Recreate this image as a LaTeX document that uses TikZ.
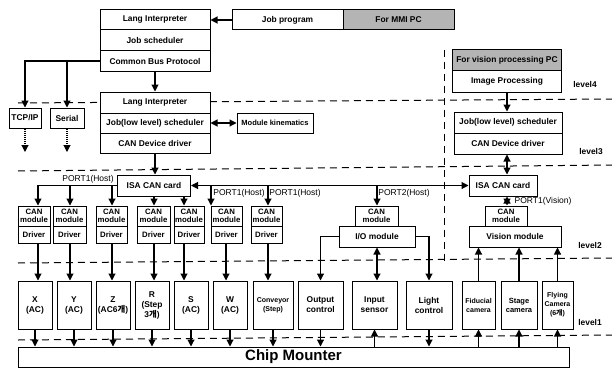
\documentclass[tikz,border=0pt]{standalone}
\usepackage{fontspec}
\setmainfont{Liberation Sans}
\newfontfamily\krfont{Noto Sans CJK KR}
\usetikzlibrary{arrows.meta}
\definecolor{pcgray}{RGB}{180,180,180}
\newcommand{\gae}{{\krfont 개}}

\begin{document}
\begin{tikzpicture}[x=1pt,y=-1pt,
  box/.style={draw, line width=1pt, fill=white, inner sep=0pt, align=center,
    font=\fontsize{8.4}{10}\selectfont\bfseries},
  modtxt/.style={font=\fontsize{7.8}{8.6}\selectfont\bfseries},
  tinytxt/.style={font=\fontsize{7}{9}\selectfont\bfseries},
  arr/.style={line width=1.1pt, -{Triangle[width=7pt,length=7pt]}},
  darr/.style={line width=1.1pt, {Triangle[width=7pt,length=7pt]}-{Triangle[width=7pt,length=7pt]}},
  lvl/.style={line width=1pt, dash pattern=on 7pt off 5pt},
  port/.style={inner sep=0pt, font=\fontsize{8.5}{9}\selectfont},
  lvltxt/.style={inner sep=0pt, font=\fontsize{8.4}{9}\selectfont\bfseries}]
  \useasboundingbox (0,0) rectangle (612,369);

  % level lines
  \draw[lvl] (18,103) -- (612,99);
  \draw[lvl] (18,171) -- (612,165);
  \draw[lvl] (18,263) -- (612,258);
  \draw[lvl] (18,340) -- (612,335);
  \draw[lvl] (444,50) -- (444,262);

  % MMI PC
  \node[box, minimum width=110, minimum height=20] (li1) at (155,20) {Lang Interpreter};
  \node[box, minimum width=110, minimum height=21] (js1) at (155,40.5) {Job scheduler};
  \node[box, minimum width=110, minimum height=20] (cbp) at (155,61) {Common Bus Protocol};
  \node[box, minimum width=111, minimum height=20] (job) at (287.5,20) {Job program};
  \node[box, fill=pcgray, minimum width=111, minimum height=20] (mmi) at (398.5,20) {For MMI PC};
  \node[box, minimum width=32, minimum height=20] (tcp) at (25,118) {TCP/IP};
  \node[box, minimum width=34, minimum height=20] (ser) at (67,118) {Serial};
  \coordinate (tcpout) at (25,152);
  \coordinate (serout) at (67,152);

  % controller
  \node[box, minimum width=110, minimum height=21] (li2) at (155,102.5) {Lang Interpreter};
  \node[box, minimum width=110, minimum height=20] (js2) at (155,123) {Job(low level) scheduler};
  \node[box, minimum width=110, minimum height=20] (cdd) at (155,143) {CAN Device driver};
  \node[box, font=\fontsize{7.5}{9}\selectfont\bfseries, minimum width=76, minimum height=20] (kin) at (275,123) {Module kinematics};

  % vision PC
  \node[box, fill=pcgray, minimum width=109, minimum height=20] (vpc) at (507,60) {For vision processing PC};
  \node[box, minimum width=109, minimum height=22] (imgp) at (507,81) {Image Processing};
  \node[box, minimum width=108, minimum height=21] (js3) at (508,122.5) {Job(low level) scheduler};
  \node[box, minimum width=108, minimum height=21] (cdd2) at (508,143.5) {CAN Device driver};

  % CAN cards
  \node[box, minimum width=73, minimum height=21] (isa1) at (154,185.5) {ISA CAN card};
  \node[box, minimum width=68, minimum height=21] (isa2) at (503,185.5) {ISA CAN card};

  % CAN modules and drivers
  \node[box, modtxt, minimum width=32, minimum height=20] (cm1) at (34,216) {CAN\\module};
  \node[box, modtxt, minimum width=32, minimum height=17] (dr1) at (34,234.5) {Driver};
  \node[box, modtxt, minimum width=33, minimum height=20] (cm2) at (69.5,216) {CAN\\module};
  \node[box, modtxt, minimum width=33, minimum height=17] (dr2) at (69.5,234.5) {Driver};
  \node[box, modtxt, minimum width=31, minimum height=20] (cm3) at (111.5,216) {CAN\\module};
  \node[box, modtxt, minimum width=31, minimum height=17] (dr3) at (111.5,234.5) {Driver};
  \node[box, modtxt, minimum width=33, minimum height=20] (cm4) at (153.5,216) {CAN\\module};
  \node[box, modtxt, minimum width=33, minimum height=17] (dr4) at (153.5,234.5) {Driver};
  \node[box, modtxt, minimum width=30, minimum height=20] (cm5) at (189,216) {CAN\\module};
  \node[box, modtxt, minimum width=30, minimum height=17] (dr5) at (189,234.5) {Driver};
  \node[box, modtxt, minimum width=31, minimum height=20] (cm6) at (226.5,216) {CAN\\module};
  \node[box, modtxt, minimum width=31, minimum height=17] (dr6) at (226.5,234.5) {Driver};
  \node[box, modtxt, minimum width=31, minimum height=20] (cm7) at (266.5,216) {CAN\\module};
  \node[box, modtxt, minimum width=31, minimum height=17] (dr7) at (266.5,234.5) {Driver};
  \node[box, modtxt, minimum width=43, minimum height=20] (cmio) at (376.5,216) {CAN\\module};
  \node[box, minimum width=76, minimum height=21] (io) at (377,236.5) {I/O module};
  \node[box, modtxt, minimum width=42, minimum height=20] (cmv) at (506,216) {CAN\\module};
  \node[box, minimum width=92, minimum height=21] (vis) at (515,236.5) {Vision module};

  % axes and devices
  \node[box, minimum width=34, minimum height=48] (ax) at (35,305) {X\\(AC)};
  \node[box, minimum width=34, minimum height=48] (ay) at (74,305) {Y\\(AC)};
  \node[box, minimum width=34, minimum height=48] (az) at (113,305) {Z\\(AC6\gae)};
  \node[box, minimum width=34, minimum height=48] (ar) at (152,305) {R\\(Step\\3\gae)};
  \node[box, minimum width=34, minimum height=48] (as) at (191,305) {S\\(AC)};
  \node[box, minimum width=34, minimum height=48] (aw) at (230,305) {W\\(AC)};
  \node[box, tinytxt, minimum width=40, minimum height=48] (conv) at (273,305) {Conveyor\\(Step)};
  \node[box, minimum width=45, minimum height=48] (outc) at (320.5,305) {Output\\control};
  \node[box, minimum width=45, minimum height=48] (inp) at (374.5,305) {Input\\sensor};
  \node[box, minimum width=46, minimum height=48] (light) at (429,305) {Light\\control};
  \node[box, tinytxt, minimum width=33, minimum height=48] (fid) at (478.5,305) {Fiducial\\camera};
  \node[box, font=\fontsize{7.5}{9}\selectfont\bfseries, minimum width=36, minimum height=48] (stage) at (519,305) {Stage\\camera};
  \node[box, tinytxt, minimum width=31, minimum height=48] (fly) at (557.5,305) {Flying\\Camera\\(6\gae)};
  \node[box, font=\fontsize{15}{18}\selectfont\bfseries, minimum width=551, minimum height=20] (chip) at (293.5,357) {Chip Mounter};

  % labels
  \node[port] (p1) at (88,179) {PORT1(Host)};
  \node[port] (p2) at (239,193) {PORT1(Host)};
  \node[port] (p3) at (295,193) {PORT1(Host)};
  \node[port] (p4) at (404,193) {PORT2(Host)};
  \node[port] (p5) at (543,201) {PORT1(Vision)};
  \node[lvltxt] (l4) at (585,84) {level4};
  \node[lvltxt] (l3) at (591,152) {level3};
  \node[lvltxt] (l2) at (590,245) {level2};
  \node[lvltxt] (l1) at (590,322) {level1};

  % bus taps
  \coordinate (k1) at (38,185.5);
  \coordinate (k2) at (70,185.5);
  \coordinate (k3) at (112,185.5);
  \coordinate (k4) at (154,185.5);
  \coordinate (k5) at (184,185.5);
  \coordinate (k6) at (211,185.5);
  \coordinate (k6b) at (226,185.5);
  \coordinate (k7) at (268,185.5);
  \coordinate (k8) at (377,185.5);
  \coordinate (vc) at (507,0);

  % upper connectors
  \draw[arr] (job.west) -- (li1.east);
  \draw[arr] (cbp.west) -| (tcp.north);
  \draw[arr] (cbp.west -| ser.north) -- (ser.north);
  \draw[arr, densely dotted] (tcp.south) -- (tcpout);
  \draw[arr, densely dotted] (ser.south) -- (serout);
  \draw[arr] (cbp.south) -- (li2.north);
  \draw[darr] (js2.east) -- (kin.west);
  \draw[arr] (cdd.south) -- (cdd.south |- isa1.north);
  \draw[arr] (vc |- imgp.south) -- (vc |- js3.north);
  \draw[darr] (vc |- cdd2.south) -- (vc |- isa2.north);
  \draw[darr] (vc |- isa2.south) -- (vc |- cmv.north);

  % CAN bus
  \draw[darr] (isa1.east) -- (isa2.west);
  \draw[arr] (isa1.west) -| (k1 |- cm1.north);
  \draw[arr] (k2) -- (k2 |- cm2.north);
  \draw[arr] (k3) -- (k3 |- cm3.north);
  \draw[arr] (k4 |- isa1.south) -- (k4 |- cm4.north);
  \draw[arr] (k5 |- isa1.south) -- (k5 |- cm5.north);
  \draw[arr] (k6) -- (k6 |- cm6.north);
  \draw[arr] (k7) -- (k7 |- cm7.north);
  \draw[arr] (k8) -- (k8 |- cmio.north);

  % drivers to axes
  \draw[arr] (k1 |- dr1.south) -- (k1 |- ax.north);
  \draw[arr] (k2 |- dr2.south) -- (k2 |- ay.north);
  \draw[arr] (k3 |- dr3.south) -- (k3 |- az.north);
  \draw[arr] (k4 |- dr4.south) -- (k4 |- ar.north);
  \draw[arr] (k5 |- dr5.south) -- (k5 |- as.north);
  \draw[arr] (k6b |- dr6.south) -- (k6b |- aw.north);
  \draw[arr] (k7 |- dr7.south) -- (k7 |- conv.north);

  % I/O and vision
  \draw[arr] (io.west) -| (outc.north);
  \draw[arr] (io.east) -| (light.north);
  \draw[darr] (io.south) -- (io.south |- inp.north);
  \draw[arr] (fid.north) -- (fid.north |- vis.south);
  \draw[arr] (stage.north) -- (stage.north |- vis.south);
  \draw[arr] (fly.north) -- (fly.north |- vis.south);

  % chip mounter
  \draw[arr] (ax.south) -- (ax.south |- chip.north);
  \draw[arr] (ay.south) -- (ay.south |- chip.north);
  \draw[arr] (az.south) -- (az.south |- chip.north);
  \draw[arr] (ar.south) -- (ar.south |- chip.north);
  \draw[arr] (as.south) -- (as.south |- chip.north);
  \draw[arr] (aw.south) -- (aw.south |- chip.north);
  \draw[arr] (conv.south) -- (conv.south |- chip.north);
  \draw[arr] (outc.south) -- (outc.south |- chip.north);
  \draw[arr] (inp.south |- chip.north) -- (inp.south);
  \draw[arr] (light.south) -- (light.south |- chip.north);
  \draw[arr] (fid.south |- chip.north) -- (fid.south);
  \draw[arr] (stage.south |- chip.north) -- (stage.south);
  \draw[arr] (fly.south |- chip.north) -- (fly.south);
\end{tikzpicture}
\end{document}
